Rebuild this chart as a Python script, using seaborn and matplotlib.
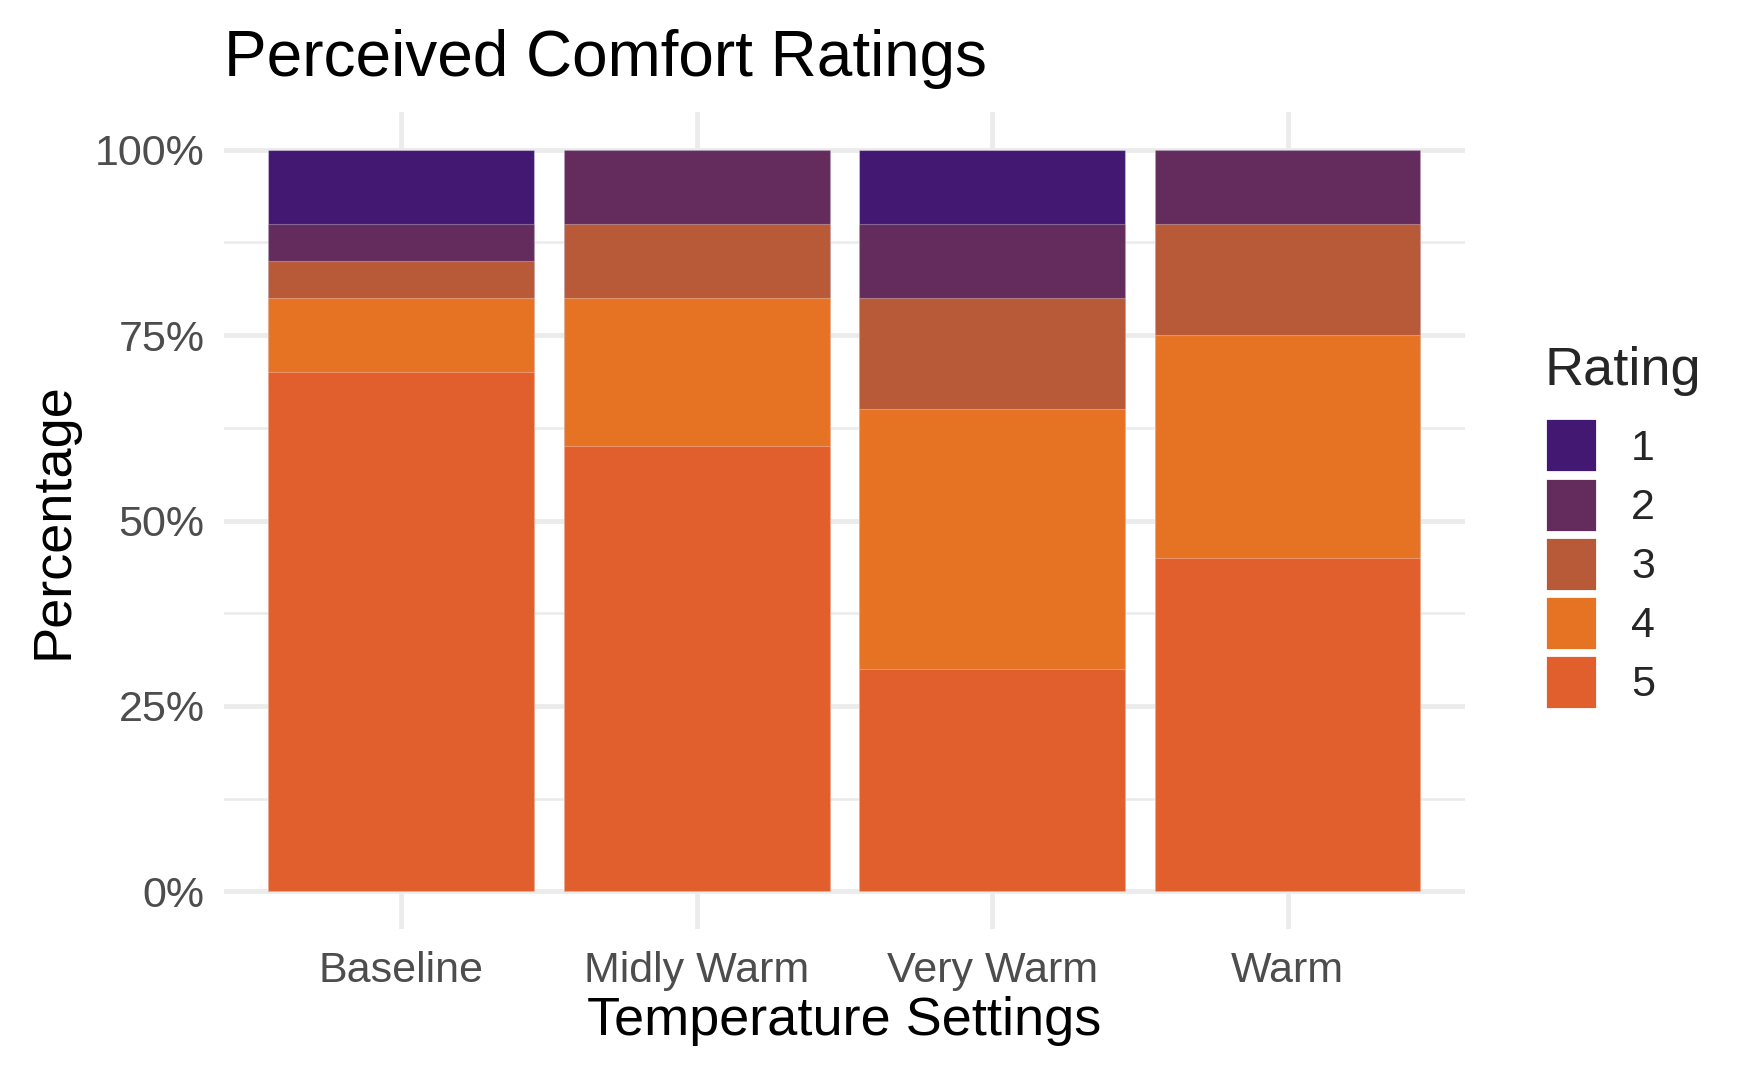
import numpy as np
import pandas as pd
import seaborn as sns
import matplotlib.pyplot as plt
from matplotlib.patches import Patch
from matplotlib.ticker import FixedLocator, FuncFormatter

# Data (percent of respondents per rating)
settings = ['Baseline', 'Midly Warm', 'Very Warm', 'Warm']
ratings = ['1', '2', '3', '4', '5']
rating_1 = [10, 0, 10, 0]
rating_2 = [5, 10, 10, 10]
rating_3 = [5, 10, 15, 15]
rating_4 = [10, 20, 35, 30]
rating_5 = [70, 60, 30, 45]
colors = ['#421873', '#632C5C', '#B85A38', '#E67324', '#E05F2C']

sns.set_theme(style='white')
plt.rcParams['font.family'] = ['Liberation Sans', 'DejaVu Sans']

# long-form table, rating 5 stacked at the bottom like ggplot's position_fill
df = pd.DataFrame({
    'Setting': settings * 5,
    'Rating': sum([[r] * 4 for r in ratings], []),
    'Pct': rating_1 + rating_2 + rating_3 + rating_4 + rating_5,
})
df['Frac'] = df['Pct'] / 100
df['Rank'] = df['Rating'].astype(int)
# top of each segment = share with rating >= own rating
df['Top'] = df.apply(lambda r: df[(df.Setting == r.Setting) & (df.Rank >= r.Rank)].Frac.sum(), axis=1)

fig = plt.figure(figsize=(17.5, 10.81), dpi=100)
ax = fig.add_axes([0.128, 0.141, 0.709, 0.755])

for r, c in zip(ratings, colors):
    sub = df[df.Rating == r]
    sns.barplot(data=sub, x='Setting', y='Top', order=settings, color=c,
                width=0.9, saturation=1, edgecolor=(1, 1, 1, 0.3), linewidth=0.8,
                ax=ax, zorder=3)

ax.set_xlim(-0.6, 3.6)
ax.set_ylim(-0.05, 1.05)
ax.yaxis.set_major_locator(FixedLocator([0, 0.25, 0.5, 0.75, 1.0]))
ax.yaxis.set_minor_locator(FixedLocator([0.125, 0.375, 0.625, 0.875]))
ax.yaxis.set_major_formatter(FuncFormatter(lambda v, p: f'{v * 100:.0f}%'))
ax.grid(which='major', axis='both', color='#EBEBEB', linewidth=3.4, zorder=0)
ax.grid(which='minor', axis='y', color='#EBEBEB', linewidth=1.8, zorder=0)
ax.set_axisbelow(True)
for s in ax.spines.values():
    s.set_visible(False)
ax.tick_params(axis='both', which='both', length=0, labelsize=31, colors='#4D4D4D')
ax.tick_params(axis='y', pad=14)
ax.tick_params(axis='x', pad=16)

ax.set_xlabel('Temperature Settings', fontsize=39, color='black', labelpad=4)
ax.set_ylabel('Percentage', fontsize=39, color='black', labelpad=12)
ax.set_title('Perceived Comfort Ratings', fontsize=46, loc='left', pad=26, color='black')

handles = [Patch(facecolor=c, edgecolor='white', linewidth=2) for c in colors]
leg = fig.legend(handles, ratings, title='Rating', loc='center left',
                 bbox_to_anchor=(0.873, 0.512), frameon=False, fontsize=31,
                 title_fontsize=39, handlelength=1.2, handleheight=1.55,
                 labelspacing=0.12, handletextpad=0.8, borderaxespad=0)
leg._legend_box.align = 'left'
leg._legend_box.sep = 16

fig.savefig('out.png', dpi=100)
